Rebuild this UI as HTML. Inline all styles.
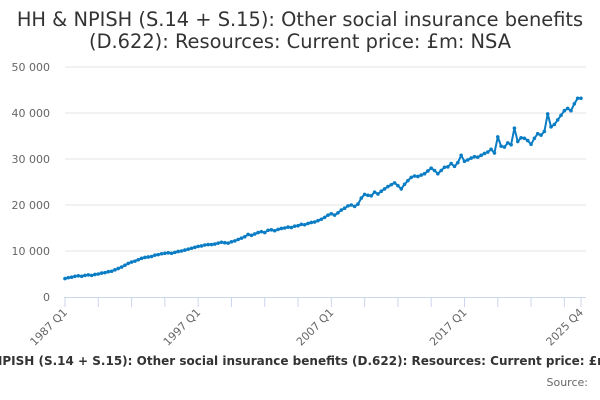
<!DOCTYPE html>
<html><head><meta charset="utf-8"><style>
body{margin:0;width:600px;height:400px;overflow:hidden;background:#fff;font-family:"DejaVu Sans","Liberation Sans",sans-serif}
</style></head><body>
<svg id="chart" width="600" height="400" xmlns="http://www.w3.org/2000/svg" style="display:block">
<text x="300" y="26" text-anchor="middle" font-size="19.4" fill="#333">HH &amp; NPISH (S.14 + S.15): Other social insurance benefits</text>
<text x="300" y="48" text-anchor="middle" font-size="19.4" fill="#333">(D.622): Resources: Current price: £m: NSA</text>
<g id="grid"></g><g id="xaxis"></g><g id="series"></g>
<text x="300" y="365" text-anchor="middle" font-size="12" font-weight="bold" fill="#333">HH &amp; NPISH (S.14 + S.15): Other social insurance benefits (D.622): Resources: Current price: £m: NSA</text>
<text x="588" y="386" text-anchor="end" font-size="11" fill="#666">Source:</text>
</svg>
<script>
const yTicks=[0,10000,20000,30000,40000,50000];
const yTickLabels=["0","10 000","20 000","30 000","40 000","50 000"];
const xLabelIdx=[0,40,80,120,155];
const xLabels=["1987 Q1","1997 Q1","2007 Q1","2017 Q1","2025 Q4"];
const values=[
4000,4200,4300,4500, 4600,4500,4700,4800, 4700,4900,5000,5200, 5300,5500,5600,5900,
6200,6500,6900,7300, 7600,7800,8100,8400, 8600,8700,8800,9100, 9200,9400,9500,9600,
9500,9700,9900,10000, 10200,10400,10600,10800, 11000,11100,11300,11400, 11400,11500,11700,11900,
11800,11700,12000,12200, 12500,12800,13100,13600, 13400,13700,14000,14200, 14000,14500,14600,14400,
14700,14900,15000,15200, 15100,15400,15500,15800, 15700,16000,16200,16300, 16600,16900,17300,17800,
18100,17800,18300,18900, 19300,19800,20000,19700, 20200,21500,22300,22100, 22000,22800,22400,23000,
23500,24000,24400,24800, 24200,23500,24500,25300, 26000,26300,26200,26500, 26800,27400,28000,27500,
26800,27500,28200,28300, 29000,28400,29200,30800, 29500,29800,30200,30500, 30400,30800,31200,31500,
32100,31300,34800,32800, 32600,33500,33100,36700, 33800,34600,34500,34000, 33200,34500,35500,35200,
36000,39800,37000,37500, 38500,39500,40500,41000, 40500,42000,43200,43200];
const X0=65,X1=581,Y0=297,Y1=67,NS="http://www.w3.org/2000/svg";
const xs=i=>X0+(X1-X0)*i/(values.length-1);
const ys=v=>Y0-(Y0-Y1)*v/50000;
function mk(t,a,p){const e=document.createElementNS(NS,t);for(const k in a)e.setAttribute(k,a[k]);p.appendChild(e);return e;}
const grid=document.getElementById('grid'),xa=document.getElementById('xaxis'),se=document.getElementById('series');
yTicks.forEach((v,i)=>{
 if(i>0){const l=mk('line',{x1:X0,x2:586,y1:ys(v),y2:ys(v),stroke:'#e6e6e6'},grid);
 
 }
 const t=mk('text',{x:50,y:ys(v)+4,'text-anchor':'end','font-size':'11',fill:'#666'},grid);
 
 
 t.textContent=yTickLabels[i];
});
const ax=mk('line',{x1:X0-1,x2:586,y1:Y0+0.5,y2:Y0+0.5,stroke:'#ccd6eb'},xa);


const tickIdx=[];for(let i=0;i<values.length;i+=10)tickIdx.push(i);tickIdx.push(values.length-1);
tickIdx.forEach(i=>{const t=mk('line',{x1:xs(i),x2:xs(i),y1:Y0,y2:Y0+10,stroke:'#ccd6eb'},xa);
 
 });
xLabelIdx.forEach((idx,k)=>{const x=xs(idx);
 const t=mk('text',{x:x+3,y:Y0+16,'text-anchor':'end','font-size':'11',fill:'#666',transform:`rotate(-45 ${x+3} ${Y0+16})`},xa);
 
 
 t.textContent=xLabels[k];});
const d=values.map((v,i)=>(i?'L':'M')+xs(i).toFixed(1)+' '+ys(v).toFixed(1)).join(' ');
const p=mk('path',{d:d,fill:'none',stroke:'#0b7dc4','stroke-width':2,'stroke-linejoin':'round'},se);


values.forEach((v,i)=>{const c=mk('circle',{cx:xs(i),cy:ys(v),r:1.8,fill:'#0b7dc4'},se);
 
 });
</script>
</body></html>
